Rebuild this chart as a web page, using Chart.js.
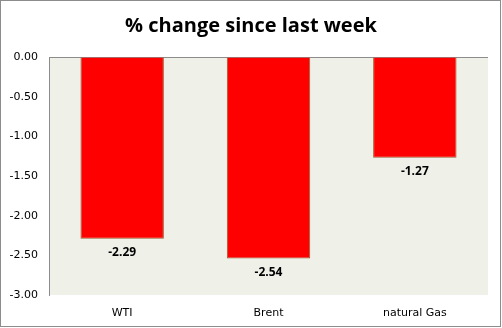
<!DOCTYPE html>
<html><head><meta charset="utf-8">
<script src="https://cdn.jsdelivr.net/npm/chart.js@4/dist/chart.umd.min.js"></script>
<style>html,body{margin:0;padding:0;background:#fff}#w{width:502px;height:328px}</style>
</head><body><div id="w"><canvas id="c" width="502" height="328"></canvas></div>
<script>
const categories = ["WTI", "Brent", "natural Gas"];
const values = [-2.29, -2.54, -1.27];
const titleText = "% change since last week";

const bgPlugin = {
  id: 'bg',
  beforeDraw(chart) {
    const {ctx, chartArea: a} = chart;
    ctx.save();
    ctx.fillStyle = '#eff0e8';
    ctx.fillRect(a.left, a.top, a.right - a.left, a.bottom - a.top);
    ctx.restore();
  },
  afterDraw(chart) {
    const {ctx} = chart;
    ctx.save();
    ctx.font = 'bold 12px "Open Sans", sans-serif';
    ctx.fillStyle = '#000';
    ctx.textAlign = 'center';
    ctx.textBaseline = 'middle';
    chart.getDatasetMeta(0).data.forEach((el, i) => {
      ctx.fillText(values[i].toFixed(2), el.x, el.y + 14);
    });
    ctx.strokeStyle = '#8c8c8c';
    ctx.lineWidth = 1;
    ctx.strokeRect(0.5, 0.5, 500, 326);
    ctx.restore();
  }
};

new Chart(document.getElementById('c'), {
  type: 'bar',
  data: {
    labels: categories,
    datasets: [{
      data: values,
      backgroundColor: '#ff0000',
      borderColor: '#9c5a2c',
      borderWidth: 1,
      categoryPercentage: 1,
      barPercentage: 0.57
    }]
  },
  options: {
    responsive: false,
    animation: false,
    devicePixelRatio: 1,
    layout: {padding: {left: 7, right: 7, top: 0, bottom: 0}},
    plugins: {
      legend: {display: false},
      tooltip: {enabled: false},
      title: {
        display: true,
        text: titleText,
        color: '#000',
        font: {family: '"Open Sans", sans-serif', size: 20, weight: 'bold'},
        padding: {top: 14, bottom: 19}
      }
    },
    scales: {
      x: {
        grid: {display: false},
        border: {display: false},
        ticks: {color: '#000', padding: 4, font: {family: '"DejaVu Sans", Verdana, sans-serif', size: 11}},
        afterFit(s) { s.height = 33; }
      },
      y: {
        min: -3, max: 0,
        grid: {
          drawTicks: false,
          color: (c) => (c.tick && c.tick.value === 0) ? '#8c8c8c' : 'rgba(0,0,0,0)'
        },
        border: {display: true, color: '#8c8c8c'},
        ticks: {
          stepSize: 0.5,
          padding: 11,
          color: '#000',
          font: {family: '"DejaVu Sans", Verdana, sans-serif', size: 11},
          callback: (v) => Number(v).toFixed(2)
        },
        afterFit(s) { s.width = 42; }
      },
      yR: {
        position: 'right',
        min: -3, max: 0,
        grid: {display: false},
        border: {display: false},
        ticks: {display: false},
        afterFit(s) { s.width = 7; }
      }
    }
  },
  plugins: [bgPlugin]
});
</script></body></html>
